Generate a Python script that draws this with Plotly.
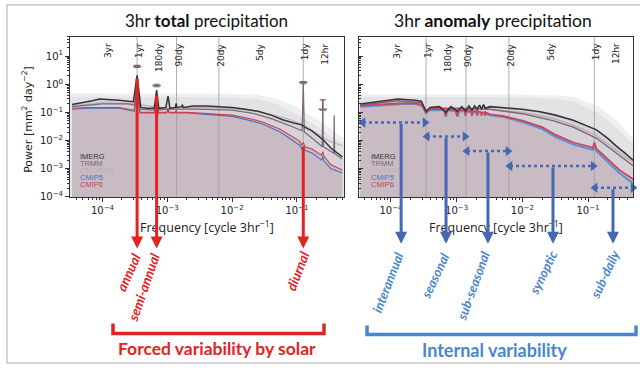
import math
import plotly.graph_objects as go

# ---------------- data ----------------
period_labels = ["3yr", "1yr", "180dy", "90dy", "20dy", "5dy", "1dy", "12hr"]
period_freq = [1.142e-4, 3.425e-4, 6.944e-4, 1.389e-3, 6.25e-3, 2.5e-2, 0.125, 0.25]
grid_freq = [3.425e-4, 1.389e-3, 6.25e-3, 0.125]

x_tick_vals = [1e-4, 1e-3, 1e-2, 1e-1]
x_tick_text = ["10<sup>−4</sup>", "10<sup>−3</sup>", "10<sup>−2</sup>", "10<sup>−1</sup>"]
y_tick_vals = [1e-4, 1e-3, 1e-2, 1e-1, 1, 10]
y_tick_text = ["10<sup>−4</sup>", "10<sup>−3</sup>", "10<sup>−2</sup>", "10<sup>−1</sup>",
               "10<sup>0</sup>", "10<sup>1</sup>"]

series_names = ["IMERG", "TRMM", "CMORPH", "CMIP5", "CMIP6"]
series_colors = ["#353535", "#7c6878", "#bab2b8", "#4f72b8", "#c8404f"]

# --- total precipitation spectra ---
imerg_total_f = [3.4e-5, 5e-5, 7e-5, 9e-5, 1.3e-4, 1.8e-4, 2.5e-4, 3.0e-4, 3.425e-4, 3.9e-4,
                 5e-4, 6.3e-4, 6.849e-4, 7.4e-4, 9.5e-4, 1.027e-3, 1.1e-3, 1.33e-3, 1.37e-3, 1.41e-3,
                 1.67e-3, 1.712e-3, 1.76e-3, 2.5e-3, 4e-3, 6e-3, 1e-2, 1.6e-2, 2.5e-2, 4e-2,
                 6e-2, 9e-2, 0.118, 0.132, 0.17, 0.21, 0.26, 0.33, 0.42, 0.5]
imerg_total_p = [0.19, 0.22, 0.26, 0.3, 0.29, 0.27, 0.25, 0.24, 2.1, 0.15,
                 0.14, 0.14, 0.62, 0.14, 0.15, 0.38, 0.14, 0.15, 0.21, 0.15,
                 0.16, 0.19, 0.15, 0.17, 0.17, 0.16, 0.15, 0.13, 0.11, 0.08,
                 0.055, 0.042, 0.036, 0.03, 0.022, 0.015, 0.01, 0.0055, 0.0035, 0.0026]

trmm_total_f = [3.4e-5, 1e-4, 2.5e-4, 3.2e-4, 3.425e-4, 3.7e-4, 6.5e-4, 6.849e-4, 7.2e-4, 1e-3,
                3e-3, 1e-2, 2e-2, 4e-2, 8e-2, 0.12, 0.125, 0.13, 0.2, 0.245,
                0.25, 0.255, 0.37, 0.375, 0.38, 0.5]
trmm_total_p = [0.16, 0.2, 0.2, 0.18, 1.6, 0.13, 0.12, 0.5, 0.12, 0.13,
                0.13, 0.12, 0.095, 0.06, 0.033, 0.022, 1.1, 0.02, 0.009, 0.006,
                0.3, 0.006, 0.0035, 0.08, 0.0034, 0.0022]

cmorph_total_f = [3.4e-5, 1e-4, 3e-4, 1e-3, 3e-3, 1e-2, 2e-2, 4e-2, 8e-2, 0.13, 0.2, 0.3, 0.5]
cmorph_total_p = [0.17, 0.22, 0.2, 0.14, 0.15, 0.14, 0.12, 0.085, 0.055, 0.035, 0.018, 0.01, 0.0065]

model_total_f = [3.4e-5, 6e-5, 1e-4, 1.8e-4, 2.6e-4, 3.1e-4, 3.425e-4, 3.8e-4, 5e-4, 6.4e-4,
                 6.849e-4, 7.3e-4, 9.8e-4, 1.027e-3, 1.07e-3, 1.34e-3, 1.37e-3, 1.40e-3, 2e-3, 4e-3,
                 1e-2, 2e-2, 3e-2, 5.5e-2, 8e-2, 0.11, 0.118, 0.125, 0.133, 0.17,
                 0.24, 0.25, 0.26, 0.33, 0.5]
cmip6_total_p = [0.14, 0.15, 0.15, 0.15, 0.13, 0.12, 1.8, 0.1, 0.1, 0.1,
                 0.45, 0.1, 0.1, 0.14, 0.1, 0.1, 0.12, 0.1, 0.1, 0.09,
                 0.08, 0.058, 0.045, 0.025, 0.015, 0.0095, 0.0068, 0.0085, 0.006, 0.005,
                 0.003, 0.004, 0.0028, 0.0014, 0.0009]
cmip5_total_p = [0.13, 0.14, 0.14, 0.14, 0.12, 0.11, 1.5, 0.095, 0.095, 0.095,
                 0.4, 0.095, 0.095, 0.12, 0.095, 0.095, 0.11, 0.095, 0.095, 0.085,
                 0.072, 0.05, 0.038, 0.02, 0.011, 0.0068, 0.005, 0.0062, 0.0045, 0.0036,
                 0.002, 0.0028, 0.0019, 0.001, 0.0007]

peak_f = [3.425e-4, 6.849e-4, 0.125, 0.25]
peak_p = [4.3, 0.9, 1.15, 0.13]
peak_err_plus = [0.4, 0.1, 0.1, 0.15]
peak_err_minus = [0.3, 0.08, 0.1, 0.01]

band_total_f = [3.2e-5, 1e-3, 1e-2, 0.025, 0.05, 0.1, 0.2, 0.55]
band_total_outer = [0.48, 0.48, 0.46, 0.42, 0.3, 0.15, 0.06, 0.011]
band_total_inner = [0.36, 0.36, 0.33, 0.3, 0.19, 0.085, 0.032, 0.007]

# --- anomaly precipitation spectra ---
imerg_anom_f = [3.4e-5, 6.8e-5, 1.28e-4, 2.34e-4, 2.9e-4, 3.425e-4, 3.95e-4, 5.5e-4, 6.849e-4, 8.2e-4,
                1.027e-3, 1.2e-3, 1.370e-3, 1.54e-3, 1.712e-3, 1.88e-3, 2.055e-3, 2.23e-3, 2.397e-3, 2.57e-3,
                2.740e-3, 3.2e-3, 5e-3, 1e-2, 1.86e-2, 3.2e-2, 5.95e-2, 0.09, 0.135, 0.2,
                0.27, 0.37, 0.5]
imerg_anom_p = [0.2, 0.24, 0.3, 0.27, 0.25, 0.11, 0.15, 0.16, 0.1, 0.16,
                0.11, 0.16, 0.11, 0.17, 0.12, 0.17, 0.13, 0.18, 0.13, 0.19,
                0.14, 0.16, 0.15, 0.13, 0.105, 0.08, 0.053, 0.036, 0.024, 0.012,
                0.0063, 0.0035, 0.0019]

obs_anom_f = [3.4e-5, 1.28e-4, 2.9e-4, 3.425e-4, 3.9e-4, 1e-3, 3.2e-3, 1e-2, 3e-2, 5.95e-2, 0.135, 0.27, 0.5]
trmm_anom_p = [0.18, 0.26, 0.22, 0.1, 0.14, 0.14, 0.13, 0.09, 0.05, 0.03, 0.012, 0.0035, 0.0012]
cmorph_anom_p = [0.17, 0.22, 0.2, 0.1, 0.13, 0.13, 0.13, 0.1, 0.06, 0.035, 0.015, 0.0045, 0.0016]

model_anom_f = [3.4e-5, 6e-5, 1e-4, 1.6e-4, 2.4e-4, 3.0e-4, 3.425e-4, 3.9e-4, 5e-4, 6.5e-4,
                6.849e-4, 7.2e-4, 9.7e-4, 1.027e-3, 1.085e-3, 1.33e-3, 1.370e-3, 1.41e-3, 1.67e-3, 1.712e-3,
                1.75e-3, 2.02e-3, 2.055e-3, 2.09e-3, 2.36e-3, 2.397e-3, 2.43e-3, 2.71e-3, 2.740e-3, 2.77e-3,
                3.2e-3, 5e-3, 1.03e-2, 2e-2, 3.3e-2, 6e-2, 0.107, 0.118, 0.125, 0.135,
                0.214, 0.3, 0.5]
cmip6_anom_p = [0.17, 0.19, 0.2, 0.21, 0.21, 0.18, 0.1, 0.13, 0.13, 0.13,
                0.075, 0.13, 0.12, 0.075, 0.12, 0.12, 0.08, 0.12, 0.11, 0.08,
                0.11, 0.11, 0.08, 0.11, 0.1, 0.08, 0.1, 0.1, 0.08, 0.1,
                0.085, 0.075, 0.05, 0.03, 0.0155, 0.0085, 0.006, 0.0055, 0.0085, 0.005,
                0.0019, 0.0009, 0.0004]
cmip5_anom_p = [0.16, 0.18, 0.19, 0.2, 0.2, 0.17, 0.095, 0.12, 0.12, 0.12,
                0.07, 0.12, 0.11, 0.07, 0.11, 0.11, 0.075, 0.11, 0.1, 0.075,
                0.1, 0.1, 0.075, 0.1, 0.095, 0.075, 0.095, 0.095, 0.075, 0.095,
                0.08, 0.07, 0.045, 0.026, 0.013, 0.0072, 0.005, 0.0046, 0.006, 0.0042,
                0.0015, 0.0007, 0.00028]

band_anom_f = [3.2e-5, 1e-3, 3.2e-3, 0.03, 0.06, 0.14, 0.28, 0.5]
band_anom_outer = [0.44, 0.44, 0.44, 0.41, 0.35, 0.17, 0.048, 0.011]
band_anom_inner = [0.35, 0.35, 0.35, 0.31, 0.25, 0.1, 0.027, 0.007]

# variability bands (right panel)
var_names = ["interannual", "seasonal", "sub-seasonal", "synoptic", "sub-daily"]
var_lo = [3.75e-5, 3.55e-4, 1.44e-3, 6.5e-3, 0.128]
var_hi = [3.3e-4, 1.34e-3, 6.05e-3, 0.12, 0.484]
var_level = [0.0438, 0.014, 0.0042, 0.00124, 0.00021]
var_arrow_f = [1.43e-4, 6.9e-4, 3.0e-3, 0.0293, 0.24]

# forced cycles (left panel)
forced_names = ["annual", "semi-annual", "diurnal"]
forced_f = [3.425e-4, 6.849e-4, 0.125]
forced_p = [1.8, 0.45, 0.0068]

FLOOR = 1e-6
W, H = 640, 371


def px(x):
    return x / W


def py(y):
    return 1 - y / H


RED = "#e2231f"
BLUE_ARROW = "#4468b4"
BLUE_TEXT = "#4a86cc"

fig = go.Figure()


def poly(xs, ys):
    return list(xs) + list(xs)[::-1], list(ys) + [FLOOR] * len(xs)


def add_fill(xs, ys, color, xa, ya):
    X, Y = poly(xs, ys)
    fig.add_trace(go.Scatter(x=X, y=Y, fill="toself", fillcolor=color, mode="lines",
                             line=dict(width=0), hoverinfo="skip", showlegend=False,
                             xaxis=xa, yaxis=ya))


def add_line(xs, ys, color, width, xa, ya):
    fig.add_trace(go.Scatter(x=xs, y=ys, mode="lines", line=dict(color=color, width=width),
                             showlegend=False, xaxis=xa, yaxis=ya))


def add_grid(xa, ya):
    gx, gy = [], []
    for f in grid_freq:
        gx += [f, f, None]
        gy += [FLOOR, 100, None]
    fig.add_trace(go.Scatter(x=gx, y=gy, mode="lines", line=dict(color="#9a9a9a", width=0.8),
                             hoverinfo="skip", showlegend=False, xaxis=xa, yaxis=ya))


# ---- left panel ----
add_fill(band_total_f, band_total_outer, "#efeff1", "x", "y")
add_fill(band_total_f, band_total_inner, "#e3e2e5", "x", "y")
add_fill(imerg_total_f, imerg_total_p, "#d7d2d7", "x", "y")
add_fill(model_total_f, cmip6_total_p, "#c9bbc4", "x", "y")
add_grid("x", "y")
add_line(cmorph_total_f, cmorph_total_p, series_colors[2], 1.2, "x", "y")
add_line(trmm_total_f, trmm_total_p, series_colors[1], 1.2, "x", "y")
add_line(model_total_f, cmip5_total_p, series_colors[3], 1.1, "x", "y")
add_line(model_total_f, cmip6_total_p, series_colors[4], 1.1, "x", "y")
add_line(imerg_total_f, imerg_total_p, series_colors[0], 1.5, "x", "y")
fig.add_trace(go.Scatter(x=peak_f, y=peak_p, mode="markers",
                         marker=dict(symbol="line-ew", size=6, line=dict(width=1.5, color="#777777")),
                         error_y=dict(type="data", array=peak_err_plus, arrayminus=peak_err_minus,
                                      color="#7a5868", thickness=1.1, width=3),
                         showlegend=False, xaxis="x", yaxis="y"))

# ---- right panel ----
add_fill(band_anom_f, band_anom_outer, "#efeff1", "x2", "y2")
add_fill(band_anom_f, band_anom_inner, "#e3e2e5", "x2", "y2")
add_fill(imerg_anom_f, imerg_anom_p, "#d7d2d7", "x2", "y2")
add_fill(model_anom_f, cmip6_anom_p, "#c9bbc4", "x2", "y2")
add_grid("x2", "y2")
add_line(obs_anom_f, cmorph_anom_p, series_colors[2], 1.6, "x2", "y2")
add_line(obs_anom_f, trmm_anom_p, series_colors[1], 1.4, "x2", "y2")
add_line(model_anom_f, cmip5_anom_p, "#5b93d2", 2.2, "x2", "y2")
add_line(model_anom_f, cmip6_anom_p, "#d04457", 1.8, "x2", "y2")
add_line(imerg_anom_f, imerg_anom_p, series_colors[0], 1.6, "x2", "y2")

for lo, hi, lev in zip(var_lo, var_hi, var_level):
    fig.add_trace(go.Scatter(x=[lo, hi], y=[lev, lev], mode="lines+markers",
                             line=dict(color=BLUE_ARROW, width=2.5, dash="dot"),
                             marker=dict(symbol=["triangle-left", "triangle-right"], size=9,
                                         color=BLUE_ARROW),
                             cliponaxis=False, showlegend=False, xaxis="x2", yaxis="y2"))

# ---- axes ----
x_left_range = [-4.50, -0.275]
x_right_range = [-4.486, -0.315]
y_range = [-4.02, 1.70]
tickfont = dict(family="DejaVu Sans", size=10, color="#222")
common_x = dict(type="log", tickmode="array", tickvals=x_tick_vals, ticktext=x_tick_text,
                ticks="outside", ticklen=4, tickcolor="#333", showgrid=False, zeroline=False,
                showline=True, mirror=True, linecolor="#333", linewidth=1, tickfont=tickfont,
                minor=dict(dtick="D1", ticks="outside", ticklen=2, tickcolor="#333", showgrid=False))
common_y = dict(type="log", range=y_range, tickmode="array", tickvals=y_tick_vals,
                ticktext=y_tick_text, ticklen=4, tickcolor="#333", showgrid=False, zeroline=False,
                showline=True, mirror=True, linecolor="#333", linewidth=1, tickfont=tickfont,
                domain=[py(200), py(37)])
top_common = dict(type="log", side="top", tickmode="array", tickvals=period_freq,
                  showticklabels=False, ticks="inside", ticklen=4, tickcolor="#333",
                  showgrid=False, showline=False, zeroline=False)

fig.update_layout(
    width=W, height=H, margin=dict(l=0, r=0, t=0, b=0),
    paper_bgcolor="white", plot_bgcolor="white", showlegend=False,
    xaxis=dict(domain=[px(70), px(344)], range=x_left_range, anchor="y", **common_x),
    xaxis2=dict(domain=[px(359), px(633)], range=x_right_range, anchor="y2", **common_x),
    yaxis=dict(anchor="x", ticks="outside",
               minor=dict(dtick="D1", ticks="outside", ticklen=2, tickcolor="#333", showgrid=False),
               **common_y),
    yaxis2=dict(anchor="x2", ticks="inside", showticklabels=False,
                minor=dict(dtick="D1", ticks="inside", ticklen=2, tickcolor="#333", showgrid=False),
                **common_y),
    xaxis3=dict(overlaying="x", anchor="y", range=x_left_range, **top_common),
    xaxis4=dict(overlaying="x2", anchor="y2", range=x_right_range, **top_common),
)

ann = []


def text_at(x, y, text, font, angle=0, xanchor="center", yanchor="middle"):
    ann.append(dict(x=px(x), y=py(y), xref="paper", yref="paper", showarrow=False,
                    xanchor=xanchor, yanchor=yanchor, textangle=angle, text=text, font=font))


# titles
text_at(206, 21, "3hr <b>total</b> precipitation", dict(family="Lato", size=17, color="#111"))
text_at(493, 21, "3hr <b>anomaly</b> precipitation", dict(family="Lato", size=17.5, color="#111"))
# axis titles
for cx in (207, 496):
    text_at(cx, 230, "Frequency [cycle 3hr<sup>−1</sup>]",
            dict(family="Open Sans", size=12.5, color="#222"))
text_at(27.5, 121, "Power [mm<sup>2</sup> day<sup>−2</sup>]",
        dict(family="DejaVu Sans", size=11, color="#222"), angle=-90)
# period labels
for xr in ("x", "x2"):
    for lab, f in zip(period_labels, period_freq):
        ann.append(dict(x=math.log10(f), y=py(42), xref=xr, yref="paper", showarrow=False,
                        textangle=-90, yanchor="top", xanchor="center", xshift=2,
                        text=lab, font=dict(family="DejaVu Sans", size=9, color="#222")))
# legend text
leg_y = [159, 166, 173, 180, 187]
for lx in (78, 369):
    for name, col, yy in zip(series_names, series_colors, leg_y):
        text_at(lx, yy, name,
                dict(family="Liberation Sans Narrow, Liberation Sans", size=7.5, color=col),
                xanchor="left")
# forced arrows (left)
for f, p in zip(forced_f, forced_p):
    ann.append(dict(x=math.log10(f), y=-5.84, xref="x", yref="y", axref="x", ayref="y",
                    ax=math.log10(f), ay=math.log10(p), text="", showarrow=True,
                    arrowhead=2, arrowsize=0.8, arrowwidth=3, arrowcolor=RED))
forced_lab_pos = [(129, 276, -66), (144, 291, -71), (298, 275, -69)]
for name, (lx, ly, ang) in zip(forced_names, forced_lab_pos):
    text_at(lx, ly, "<b><i>" + name + "</i></b>", dict(family="Lato", size=13.5, color=RED), angle=ang)
# internal arrows (right)
for f, lev in zip(var_arrow_f, var_level):
    ann.append(dict(x=math.log10(f), y=-5.67, xref="x2", yref="y2", axref="x2", ayref="y2",
                    ax=math.log10(f), ay=math.log10(lev), text="", showarrow=True,
                    arrowhead=2, arrowsize=0.8, arrowwidth=3, arrowcolor=BLUE_ARROW))
var_lab_pos = [(388, 286, -69), (435, 280, -65), (473, 290, -70), (543, 277, -64), (605, 278, -65)]
for name, (lx, ly, ang) in zip(var_names, var_lab_pos):
    text_at(lx, ly, "<b><i>" + name + "</i></b>", dict(family="Lato", size=13, color=BLUE_TEXT),
            angle=ang)
# bracket captions
text_at(217, 353, "<b>Forced variability by solar</b>", dict(family="Lato", size=17.5, color=RED))
text_at(494, 355, "<b>Internal variability</b>", dict(family="Lato", size=18, color=BLUE_TEXT))
fig.update_layout(annotations=ann)


def bracket(x0, x1, ytop, ybot):
    return (f"M {px(x0)},{py(ytop)} L {px(x0)},{py(ybot)} "
            f"L {px(x1)},{py(ybot)} L {px(x1)},{py(ytop)}")


fig.update_layout(shapes=[
    dict(type="rect", xref="paper", yref="paper", x0=px(7), y0=py(368), x1=px(660), y1=py(5),
         line=dict(color="#a8a8a8", width=1), fillcolor="rgba(0,0,0,0)", layer="below"),
    dict(type="path", xref="paper", yref="paper", path=bracket(113, 324, 328, 338),
         line=dict(color=RED, width=3.5)),
    dict(type="path", xref="paper", yref="paper", path=bracket(367, 636, 330, 339),
         line=dict(color=BLUE_TEXT, width=3.5)),
])

fig.write_html("out.html", config={"displayModeBar": False},
               post_script="document.body.style.margin='0px';")
